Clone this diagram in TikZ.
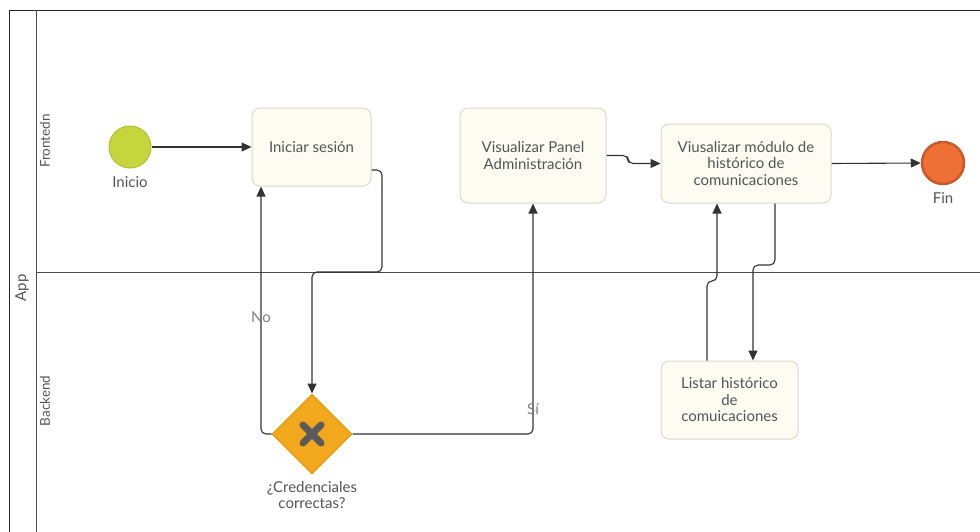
\documentclass[tikz,border=0pt]{standalone}
\usepackage{fontspec}
\setmainfont{Lato}
\usetikzlibrary{shapes.geometric,arrows.meta}
\definecolor{taskfill}{HTML}{FDFCF3}
\definecolor{taskdraw}{HTML}{D9D9CC}
\definecolor{txt}{HTML}{555555}
\definecolor{line}{HTML}{333333}
\definecolor{startfill}{HTML}{C5D63D}
\definecolor{startdraw}{HTML}{AFC030}
\definecolor{endfill}{HTML}{EF7036}
\definecolor{enddraw}{HTML}{C65A28}
\definecolor{gwfill}{HTML}{F2A81D}
\definecolor{gwdraw}{HTML}{E39A12}
\definecolor{xmark}{HTML}{5A5A5A}
\begin{document}
\begin{tikzpicture}[x=1pt,y=-1pt,
  task/.style={draw=taskdraw,fill=taskfill,rounded corners=8pt,line width=1pt,
    text=txt,font=\fontsize{15}{16.5}\selectfont,align=center,inner sep=2pt},
  lbl/.style={text=txt,font=\fontsize{15}{16.5}\selectfont,align=center,inner sep=0pt},
  flow/.style={draw=line,line width=1.1pt,rounded corners=5pt,-{Triangle[length=10pt,width=9pt]}},
  lane/.style={draw=black!70,line width=0.8pt}]
\useasboundingbox (0,0) rectangle (980,531);
% pool and lanes
\draw[line width=1pt,draw=black!85] (9,545) -- (9,10) -- (995,10);
\draw[lane] (36,10) -- (36,545);
\draw[lane] (36,272) -- (995,272);
\node[lbl,rotate=90] (app) at (22,288) {App};
\node[lbl,rotate=90,font=\fontsize{13.5}{15}\selectfont] (front) at (45,141) {Frontedn};
\node[lbl,rotate=90,font=\fontsize{13.5}{15}\selectfont] (back) at (45,401) {Backend};
% events
\node[circle,fill=startfill,draw=startdraw,line width=1pt,minimum size=42pt,inner sep=0pt] (start) at (130,147) {};
\node[lbl] (startl) at (130,182) {Inicio};
\node[circle,fill=endfill,draw=enddraw,line width=2.5pt,minimum size=42pt,inner sep=0pt] (fin) at (943,163) {};
\node[lbl] (finl) at (943,198) {Fin};
% tasks
\node[task,minimum width=119pt,minimum height=78pt] (ini) at (311.5,147) {Iniciar sesión};
\node[task,minimum width=146pt,minimum height=95pt] (panel) at (533,155.5) {Visualizar Panel\\Administración};
\node[task,minimum width=170pt,minimum height=79pt] (mod) at (746,163.5) {Viusalizar módulo de\\histórico de\\comunicaciones};
\node[task,minimum width=137pt,minimum height=78pt] (lst) at (729.5,400) {Listar histórico\\de\\comuicaciones};
% gateway
\node[diamond,aspect=1,fill=gwfill,draw=gwdraw,line width=1pt,minimum width=80pt,minimum height=80pt,inner sep=0pt] (gw) at (312,434) {};
\draw[xmark,line width=7pt,line cap=round] ([shift={(-9pt,-9pt)}]gw.center) -- ([shift={(9pt,9pt)}]gw.center);
\draw[xmark,line width=7pt,line cap=round] ([shift={(-9pt,9pt)}]gw.center) -- ([shift={(9pt,-9pt)}]gw.center);
\node[lbl] (gwl) at (312,495) {¿Credenciales\\correctas?};
% flows
\draw[flow] (start) -- (ini);
\draw[flow] ([yshift=-23pt]ini.east) -- (382,170) -- (382,272) -- (312,272) -- (gw.north);
\draw[flow] (gw.west) -- (261,434) -- ([xshift=-50.5pt]ini.south);
\draw[flow] (gw.east) -- (533,434) -- (panel.south);
\draw[flow] (panel.east) -- (628,155.5) -- (628,163.5) -- (mod.west);
\draw[flow] (mod.east) -- (fin.west);
\draw[flow] ([xshift=29pt]mod.south) -- (775,265) -- (753,265) -- ([xshift=23.5pt]lst.north);
\draw[flow] ([xshift=-22.5pt]lst.north) -- (707,281) -- (717,281) -- ([xshift=-29pt]mod.south);
\node[lbl,text=black!50] (no) at (261,317) {No};
\node[lbl,text=black!50] (si) at (533,409) {Sí};
\end{tikzpicture}
\end{document}
